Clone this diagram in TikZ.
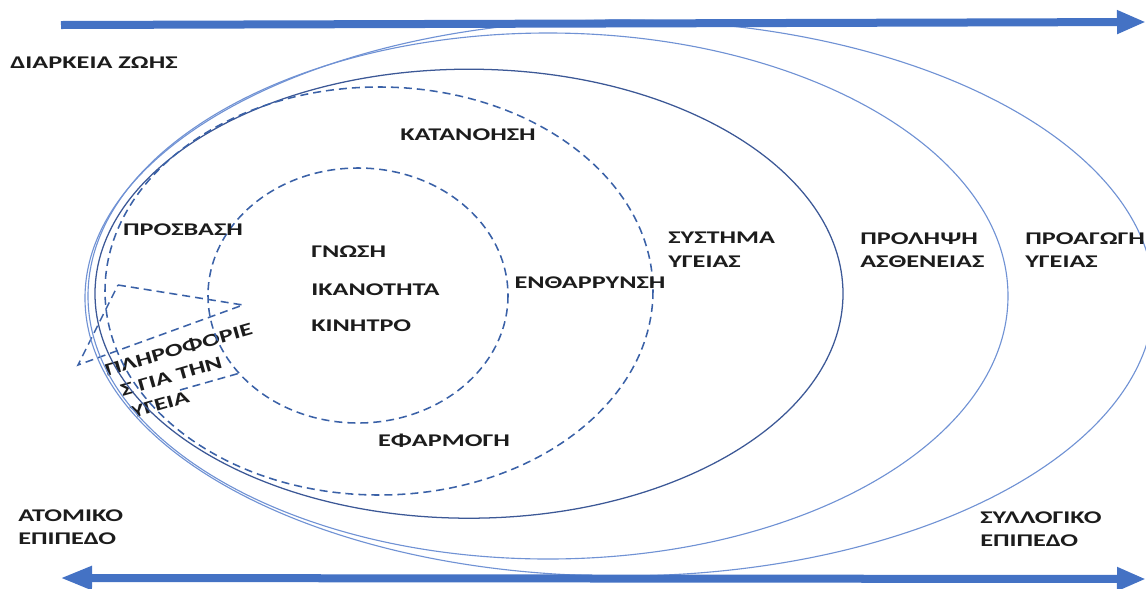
\documentclass[tikz,border=0pt]{standalone}
\usepackage{fontspec}
\usepackage{tikz}
\usetikzlibrary{arrows.meta, positioning}
\newfontfamily\rotulo{Carlito}[FakeStretch=1.47]
\definecolor{azul}{RGB}{68, 114, 196}
\definecolor{celeste}{RGB}{112, 146, 212}
\definecolor{marino}{RGB}{60, 88, 150}
\definecolor{tinta}{RGB}{28, 28, 28}
\tikzset{
    txt/.style={font=\rotulo\bfseries\fontsize{12.7}{17}\selectfont, text=tinta, inner sep=0pt, align=left},
    eje/.style={azul, line width=0.2cm},
    anillo/.style={celeste, line width=0.8pt},
    anilloOsc/.style={marino, line width=0.9pt},
    anilloDash/.style={azul!85!black, line width=1.1pt, dash pattern=on 0.2cm off 0.125cm},
}

\begin{document}
\begin{tikzpicture}[x=0.025cm, y=-0.025cm]
        \useasboundingbox (0,0) rectangle (1146,588);
        \clip (0,0) rectangle (1146,588);

        \draw[anilloDash] (118,285) -- (243,305) -- (78,365) -- cycle;

        \node[txt, fill=white, rotate=16, inner sep=1pt] (info) at (185,372) {ΠΛΗΡΟΦΟΡΙΕ\\\hspace*{7pt}Σ ΓΙΑ ΤΗΝ\\\hspace*{9.5pt}ΥΓΕΙΑ};
        \draw[anilloDash] (180,390) -- (240,373);

        \draw[anillo] (619.5,298) ellipse [x radius=534.5, y radius=278];
        \draw[anillo] (548,296) ellipse [x radius=460, y radius=263];
        \draw[anilloOsc] (469,293.7) ellipse [x radius=374, y radius=224.5];
        \draw[anilloDash] (379,291) ellipse [x radius=274, y radius=204];
        \draw[anilloDash] (358,295.5) ellipse [x radius=150, y radius=127.5];

        \draw[eje, -{Triangle[length=0.725cm, width=0.55cm]}] (61,25) -- (1146,22);
        \draw[eje, {Triangle[length=0.8cm, width=0.55cm]}-{Triangle[length=0.725cm, width=0.55cm]}] (60,578) -- (1146,579);

        \node[txt, anchor=west] (vida) at (10,63) {ΔΙΑΡΚΕΙΑ ΖΩΗΣ};
        \node[txt] (katanoisi) at (468,135) {ΚΑΤΑΝΟΗΣΗ};
        \node[txt] (prosvasi) at (183,230) {ΠΡΟΣΒΑΣΗ};
        \node[txt, anchor=west] (gnosi) at (311,252) {ΓΝΩΣΗ};
        \node[txt, below=0.95cm of gnosi.west, anchor=west] (ikanotita) {ΙΚΑΝΟΤΗΤΑ};
        \node[txt, below=0.9cm of ikanotita.west, anchor=west] (kinitro) {ΚΙΝΗΤΡΟ};
        \node[txt] (enthar) at (590,283) {ΕΝΘΑΡΡΥΝΣΗ};
        \node[txt] (efarmogi) at (444,441) {ΕΦΑΡΜΟΓΗ};
        \node[txt, anchor=north west] (sistima) at (668,232) {ΣΥΣΤΗΜΑ\\ΥΓΕΙΑΣ};
        \node[txt, anchor=north west] (prolipsi) at (860,232) {ΠΡΟΛΗΨΗ\\ΑΣΘΕΝΕΙΑΣ};
        \node[txt, anchor=north west] (proagogi) at (1025,232) {ΠΡΟΑΓΩΓΗ\\ΥΓΕΙΑΣ};
        \node[txt, anchor=north west] (atomiko) at (18,509) {ΑΤΟΜΙΚΟ\\ΕΠΙΠΕΔΟ};
        \node[txt, anchor=north west] (syllogiko) at (980,511) {ΣΥΛΛΟΓΙΚΟ\\ΕΠΙΠΕΔΟ};
\end{tikzpicture}
\end{document}
